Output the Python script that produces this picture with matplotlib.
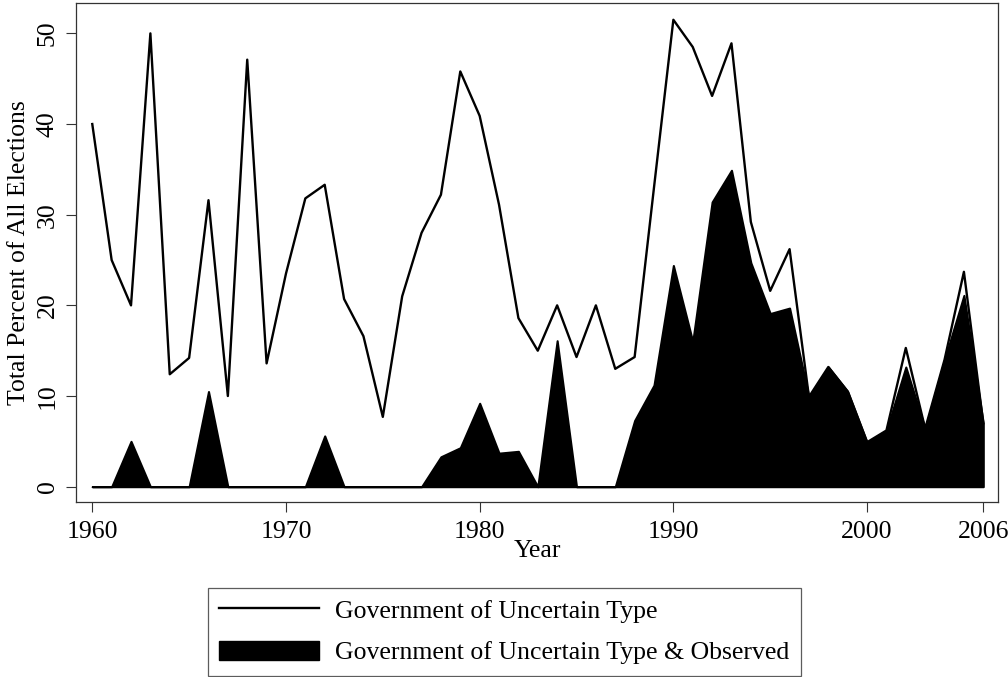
import numpy as np
import matplotlib
matplotlib.use("Agg")
import matplotlib.pyplot as plt
from matplotlib.lines import Line2D
from matplotlib.patches import Patch

plt.rcParams["font.family"] = ["Liberation Serif", "DejaVu Serif"]

years = list(range(1960, 2007))

# share of elections with a government of uncertain type
uncertain = [
    40.0, 25.0, 20.0, 50.0, 12.4, 14.2, 31.6, 10.0, 47.1, 13.6,
    23.5, 31.8, 33.3, 20.7, 16.6, 7.7, 21.0, 28.0, 32.2, 45.8,
    40.9, 31.1, 18.6, 15.0, 20.0, 14.3, 20.0, 13.0, 14.3, 33.0,
    51.5, 48.5, 43.1, 48.9, 29.2, 21.6, 26.2, 9.9, 13.2, 10.5,
    4.9, 6.2, 15.3, 6.4, 14.0, 23.7, 7.0,
]

# ... and observed
observed = [
    0, 0, 5.0, 0, 0, 0, 10.5, 0, 0, 0,
    0, 0, 5.6, 0, 0, 0, 0, 0, 3.3, 4.3,
    9.2, 3.7, 3.9, 0, 16.1, 0, 0, 0, 7.3, 11.2,
    24.4, 16.0, 31.4, 34.9, 24.7, 19.1, 19.7, 9.9, 13.2, 10.5,
    4.9, 6.2, 13.2, 6.4, 14.0, 21.1, 7.0,
]

xticks = [1960, 1970, 1980, 1990, 2000, 2006]
yticks = [0, 10, 20, 30, 40, 50]

label_line = "Government of Uncertain Type"
label_area = "Government of Uncertain Type & Observed"

FS = 18.5

fig = plt.figure(figsize=(10.08, 6.77), dpi=100)
ax = fig.add_axes([76 / 1008, 1 - 502 / 677, (998 - 76) / 1008, (502 - 3) / 677])

ax.fill_between(years, observed, 0, facecolor="black", edgecolor="black", linewidth=1.5)
ax.plot(years, uncertain, color="black", linewidth=1.7)

ax.set_xlim(1959.16, 2006.76)
ax.set_ylim(-1.69, 53.35)
ax.set_xticks(xticks)
ax.set_yticks(yticks)
ax.tick_params(axis="both", length=7.5, width=0.8, color="#333333", labelsize=FS)
ax.tick_params(axis="x", pad=6)
ax.tick_params(axis="y", pad=5)
for lab in ax.get_yticklabels():
    lab.set_rotation(90)
    lab.set_va("center")

for s in ax.spines.values():
    s.set_linewidth(0.9)
    s.set_color("#333333")

ax.set_xlabel("Year", fontsize=FS, labelpad=-2)
ax.set_ylabel("Total Percent of All Elections", fontsize=FS, labelpad=5)

handles = [
    Line2D([0], [0], color="black", linewidth=1.7),
    Patch(facecolor="black", edgecolor="black"),
]
leg = fig.legend(
    handles, [label_line, label_area],
    loc="lower center", bbox_to_anchor=(0.5, 1 / 677), borderaxespad=0,
    fontsize=FS, frameon=True, fancybox=False, edgecolor="#333333",
    handlelength=3.9, handleheight=0.75, handletextpad=0.6,
    labelspacing=0.72, borderpad=0.45,
)
leg.get_frame().set_linewidth(0.9)

fig.savefig("out.png", dpi=100)
